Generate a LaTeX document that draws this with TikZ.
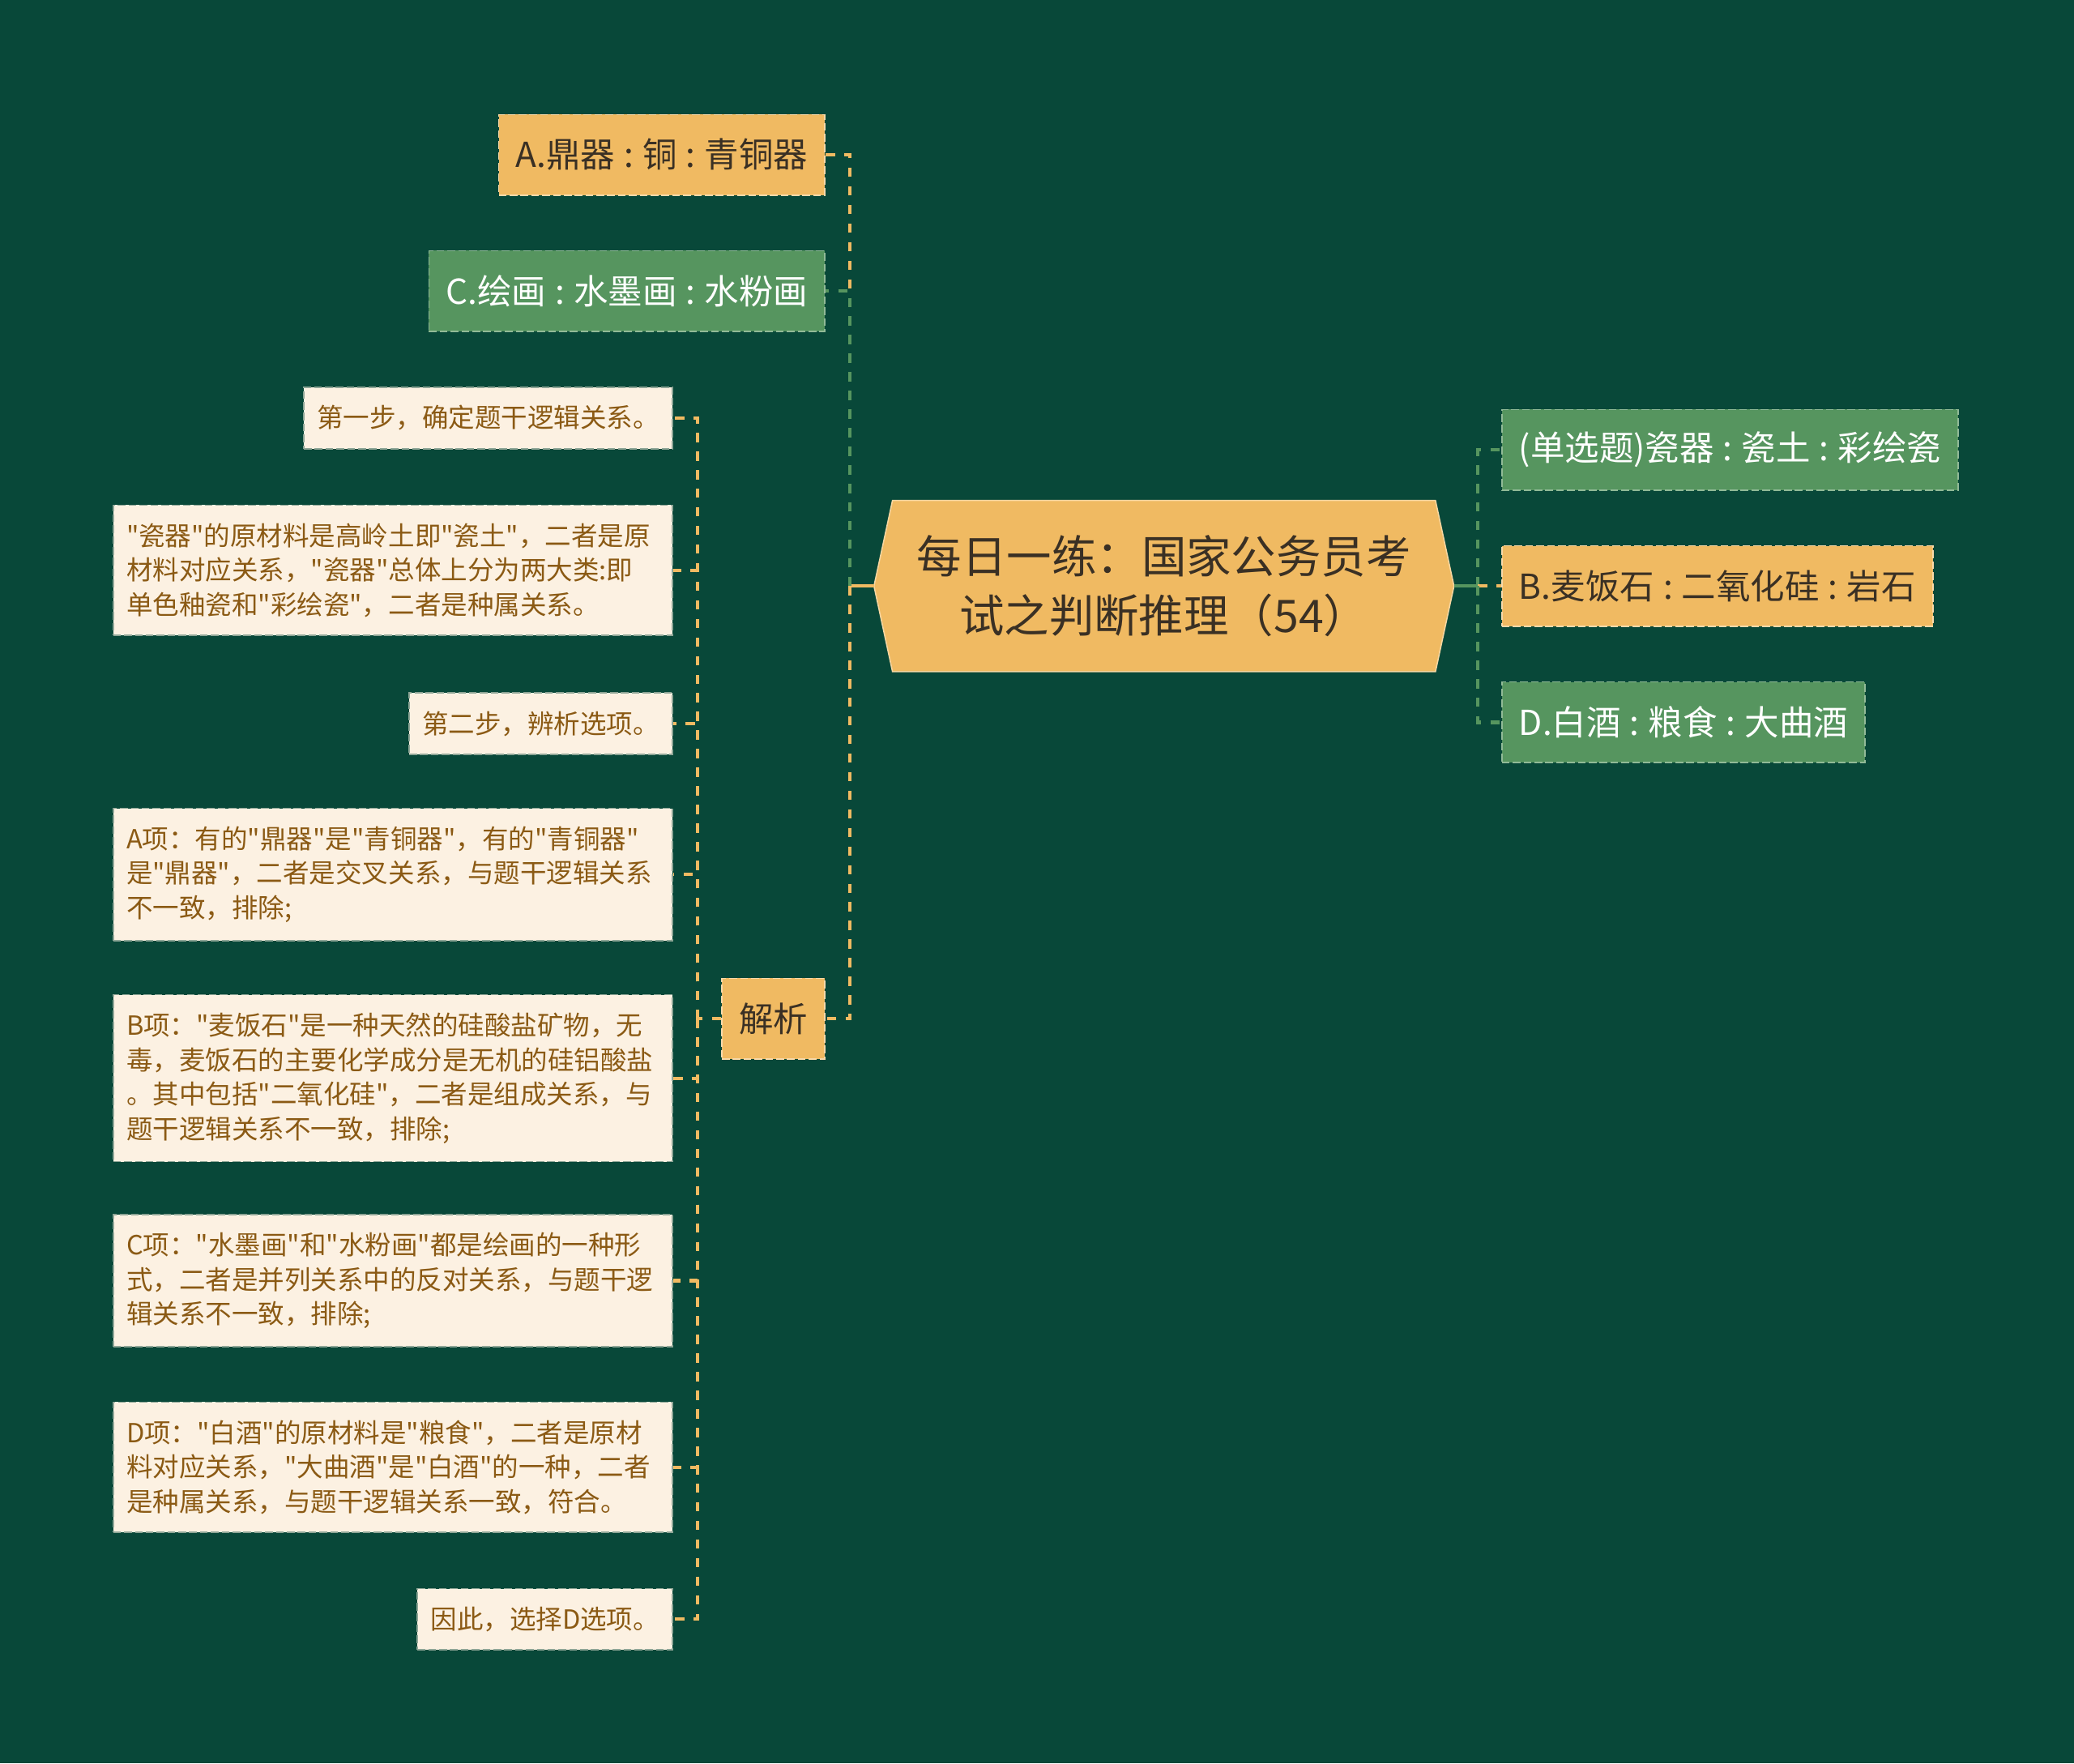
\documentclass[tikz,border=0pt]{standalone}
\usepackage{fontspec}
\setmainfont{Noto Sans CJK SC}[Ligatures=TeXOff]
\usetikzlibrary{backgrounds}
\definecolor{bgc}{RGB}{8,72,57}
\definecolor{yel}{RGB}{240,186,98}
\definecolor{grn}{RGB}{86,149,95}
\definecolor{crm}{RGB}{252,241,226}
\definecolor{brn}{RGB}{139,90,20}
\definecolor{ink}{RGB}{58,48,36}
\newcommand\hc{\makebox[0.8em]{:}}

\begin{document}
\begin{tikzpicture}[x=0.3mm,y=-0.3mm,
  box/.style={line width=0.8pt,dash pattern=on 5pt off 2pt,font=\fontsize{22.2}{28}\selectfont,minimum height=52pt,inner xsep=11pt},
  yopt/.style={box,fill=yel,draw=yel!55!white,text=ink},
  gopt/.style={box,fill=grn,draw=grn!65!white,text=white},
  leaf/.style={fill=crm,draw=bgc!45!crm,line width=0.8pt,dash pattern=on 5pt off 2pt,text=brn,font=\fontsize{17}{22.2}\selectfont,inner xsep=8.5pt,inner ysep=11.7pt,anchor=east,align=left},
  long/.style={leaf,text width=344pt},
  link/.style={line width=2.2pt,dash pattern=on 6pt off 6pt},
  stem/.style={line width=2.2pt}]
  \node[text=ink,font=\fontsize{29}{38.4}\selectfont,align=center,minimum width=350pt,minimum height=110pt] (root) at (880,443) {每日一练：国家公务员考\\试之判断推理（54）};
  \begin{scope}[on background layer]
    \fill[bgc] (0,0) rectangle (1568,1333);
    \filldraw[fill=yel,draw=yel!60!white,line width=0.8pt] (root.north west) -- (root.north east) -- ([xshift=4.2mm]root.east) -- (root.south east) -- (root.south west) -- ([xshift=-4.2mm]root.west) -- cycle;
  \end{scope}
  \coordinate (tl) at ([xshift=-4.2mm]root.west);
  \coordinate (tr) at ([xshift=4.2mm]root.east);

  \node[yopt,anchor=east] (a) at (624,117) {A.鼎器\hc 铜\hc 青铜器};
  \node[gopt,anchor=east] (c) at (624,220) {C.绘画\hc 水墨画\hc 水粉画};
  \node[yopt,anchor=east] (jx) at (624,770) {解析};
  \node[gopt,anchor=west] (s) at (1135,340) {(单选题)瓷器\hc 瓷土\hc 彩绘瓷};
  \node[yopt,anchor=west] (b) at (1135,443) {B.麦饭石\hc 二氧化硅\hc 岩石};
  \node[gopt,anchor=west] (d) at (1135,546) {D.白酒\hc 粮食\hc 大曲酒};

  \node[leaf] (l1) at (509,316) {第一步，确定题干逻辑关系。};
  \node[long] (l2) at (509,431) {"瓷器"的原材料是高岭土即"瓷土"，二者是原\\材料对应关系，"瓷器"总体上分为两大类:即\\单色釉瓷和"彩绘瓷"，二者是种属关系。};
  \node[leaf] (l3) at (509,547) {第二步，辨析选项。};
  \node[long] (l4) at (509,661) {A项：有的"鼎器"是"青铜器"，有的"青铜器"\\是"鼎器"，二者是交叉关系，与题干逻辑关系\\不一致，排除;};
  \node[long] (l5) at (509,815) {B项："麦饭石"是一种天然的硅酸盐矿物，无\\毒，麦饭石的主要化学成分是无机的硅铝酸盐\\。其中包括"二氧化硅"，二者是组成关系，与\\题干逻辑关系不一致，排除;};
  \node[long] (l6) at (509,968) {C项："水墨画"和"水粉画"都是绘画的一种形\\式，二者是并列关系中的反对关系，与题干逻\\辑关系不一致，排除;};
  \node[long] (l7) at (509,1109) {D项："白酒"的原材料是"粮食"，二者是原材\\料对应关系，"大曲酒"是"白酒"的一种，二者\\是种属关系，与题干逻辑关系一致，符合。};
  \node[leaf] (l8) at (509,1224) {因此，选择D选项。};

  \draw[stem,yel] (tl) -- ++(-18,0) coordinate (jl);
  \draw[link,yel] (jl) |- (a.east);
  \draw[link,grn] (jl) |- (c.east);
  \draw[link,yel] (jl) |- (jx.east);
  \draw[stem,grn] (tr) -- ++(18,0) coordinate (jr);
  \draw[link,grn] (jr) |- (s.west);
  \draw[link,yel] (jr) |- (b.west);
  \draw[link,grn] (jr) |- (d.west);
  \draw[link,yel] (jx.west) -- ++(-18,0) coordinate (jj);
  \foreach \n in {l1,l2,l3,l4,l5,l6,l7,l8}
    \draw[link,yel] (jj) |- (\n.east);
\end{tikzpicture}
\end{document}
